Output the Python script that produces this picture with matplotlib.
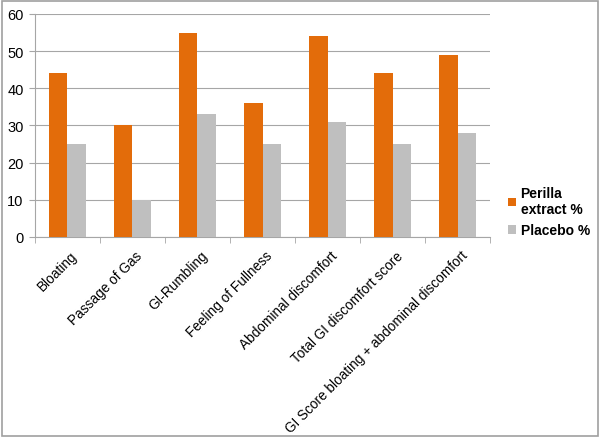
import matplotlib.pyplot as plt
import matplotlib.transforms as mtransforms
import numpy as np
from matplotlib.patches import Rectangle

categories = [
    "Bloating",
    "Passage of Gas",
    "GI-Rumbling",
    "Feeling of Fullness",
    "Abdominal discomfort",
    "Total GI discomfort score",
    "GI Score bloating + abdominal discomfort",
]
perilla = [44, 30, 55, 36, 54, 44, 49]
placebo = [25, 10, 33, 25, 31, 25, 28]
series_names = ["Perilla\nextract %", "Placebo %"]

ORANGE = "#E36C0A"
GRAY = "#BFBFBF"
LINE = "#A6A6A6"

plt.rcParams["font.family"] = ["Liberation Sans", "DejaVu Sans"]
plt.rcParams["font.size"] = 9

fig = plt.figure(figsize=(6.0, 4.39), dpi=100)
ax = fig.add_axes([0.058, 0.458, 0.759, 0.508])

x = np.arange(len(categories))
w = 0.285
b1 = ax.bar(x - w / 2, perilla, w, color=ORANGE, zorder=3, label=series_names[0])
b2 = ax.bar(x + w / 2, placebo, w, color=GRAY, zorder=3, label=series_names[1])

ax.set_xlim(-0.5, len(categories) - 0.5)
ax.set_ylim(0, 60)
ax.set_yticks(range(0, 61, 10))
ax.yaxis.grid(True, color=LINE, linewidth=0.8, zorder=0)

ax.set_xticks(x)
ax.set_xticklabels(categories, rotation=45, ha="right", rotation_mode="anchor", fontsize=9.8)
ax.tick_params(axis="x", length=0, pad=8)
shift = mtransforms.ScaledTranslation(3 / 100, 0, fig.dpi_scale_trans)
for lbl in ax.get_xticklabels():
    lbl.set_transform(lbl.get_transform() + shift)
ax.set_xticks(np.arange(-0.5, len(categories)), minor=True)
ax.tick_params(axis="x", which="minor", length=4, color=LINE)
ax.tick_params(axis="y", length=4, color=LINE, pad=4, labelsize=10.5)

for side in ["top", "right"]:
    ax.spines[side].set_visible(False)
for side in ["left", "bottom"]:
    ax.spines[side].set_color(LINE)

fig.legend(
    handles=[b1, b2],
    loc="upper left",
    bbox_to_anchor=(0.826, 0.602),
    frameon=False,
    prop={"size": 10, "weight": "bold"},
    handlelength=0.6,
    handleheight=0.6,
    handletextpad=0.3,
    labelspacing=0.5,
)

fig.patches.append(
    Rectangle((0.004, 0.005), 0.992, 0.99, transform=fig.transFigure,
              fill=False, edgecolor="#A0A0A0", linewidth=1.2)
)

fig.savefig("out.png", dpi=100)
